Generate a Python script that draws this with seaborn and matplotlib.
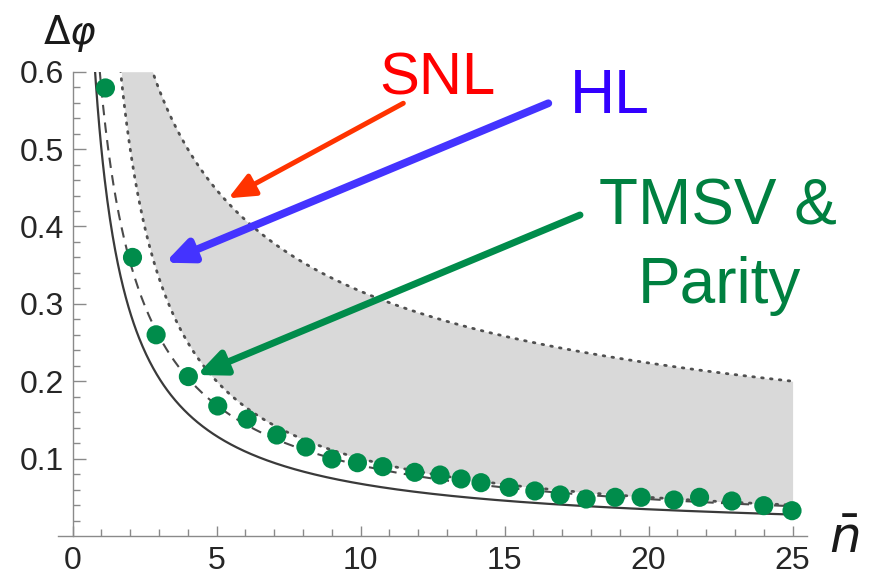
import numpy as np
import pandas as pd
import matplotlib
matplotlib.use("Agg")
import matplotlib.pyplot as plt
from matplotlib.ticker import FixedLocator
import seaborn as sns

# ---- data ----
n_points = [1.14, 2.08, 2.90, 4.02, 5.04, 6.06, 7.09, 8.10, 9.00, 9.89,
            10.77, 11.88, 12.76, 13.49, 14.18, 15.16, 16.05, 16.93, 17.83,
            18.84, 19.74, 20.88, 21.77, 22.89, 24.00, 24.98]
dphi_points = [0.579, 0.360, 0.260, 0.206, 0.168, 0.151, 0.1305, 0.115, 0.0995,
               0.0947, 0.0896, 0.0823, 0.0788, 0.0737, 0.0689, 0.0629, 0.0582,
               0.053, 0.0478, 0.050, 0.050, 0.0465, 0.050, 0.0452, 0.0392, 0.0327]

# theoretical bound curves (analytic limits drawn in the figure)
n_grid = np.linspace(0.5, 25, 800)
snl = 1 / np.sqrt(n_grid)                       # shot-noise limit
hl = 1 / n_grid                                 # Heisenberg limit
qcrb_dashed = 1 / np.sqrt(n_grid * (n_grid + 2))
qcrb_solid = 1 / np.sqrt(2 * n_grid * (n_grid + 1))

x_major = [0, 5, 10, 15, 20, 25]
y_major = [0.1, 0.2, 0.3, 0.4, 0.5, 0.6]
y_labels = ["0.1", "0.2", "0.3", "0.4", "0.5", "0.6"]

sns.set_style("white")
plt.rcParams["font.family"] = ["Liberation Sans", "DejaVu Sans"]

W, H = 870, 579
fig = plt.figure(figsize=(W / 100, H / 100), dpi=100)
ax = fig.add_axes([58.2 / W, (H - 536) / H, (807 - 58.2) / W, (536 - 71.7) / H])
ax.set_facecolor("white")

# shaded region between HL and SNL
mask = n_grid >= 5 / 3
ax.fill_between(n_grid[mask], hl[mask], np.minimum(snl[mask], 0.6),
                color="#d9d9d9", lw=0, zorder=1)

curves = pd.DataFrame({"n": n_grid, "snl": snl, "hl": hl,
                       "dashed": qcrb_dashed, "solid": qcrb_solid})
sns.lineplot(data=curves, x="n", y="solid", ax=ax, color="#3a3a3a", lw=1.6,
             estimator=None, sort=False, zorder=2)
sns.lineplot(data=curves, x="n", y="dashed", ax=ax, color="#4a4a4a", lw=1.5,
             linestyle=(0, (5, 3.5)), estimator=None, sort=False, zorder=2)
for col in ["hl", "snl"]:
    sns.lineplot(data=curves, x="n", y=col, ax=ax, color="#505050", lw=2.0,
                 linestyle=(0, (0.6, 2.6)), dash_capstyle="round",
                 estimator=None, sort=False, zorder=2)

sns.scatterplot(x=n_points, y=dphi_points, ax=ax, s=190, color="#008c4b",
                edgecolor="none", zorder=5, clip_on=False)

ax.set_xlim(-0.5, 25.5)
ax.set_ylim(0, 0.6)
ax.set_xlabel("")
ax.set_ylabel("")

for s in ["top", "right"]:
    ax.spines[s].set_visible(False)
for s in ["left", "bottom"]:
    ax.spines[s].set_color("#8a8a8a")
    ax.spines[s].set_linewidth(1.0)
ax.spines["left"].set_position(("data", 0))

ax.xaxis.set_major_locator(FixedLocator(x_major))
ax.xaxis.set_minor_locator(FixedLocator(list(range(0, 26))))
ax.yaxis.set_major_locator(FixedLocator(y_major))
ax.yaxis.set_minor_locator(FixedLocator([i * 0.02 for i in range(1, 31)]))
ax.set_yticklabels(y_labels)
ax.tick_params(axis="both", which="both", direction="in", color="#8a8a8a",
               width=1.0, labelcolor="#262626", labelsize=23,
               bottom=True, left=True, top=False, right=False)
ax.tick_params(axis="x", which="major", length=7, pad=7)
ax.tick_params(axis="x", which="minor", length=5)
ax.tick_params(axis="y", which="major", length=9, pad=6)
ax.tick_params(axis="y", which="minor", length=5)

# axis labels
fig.text(43 / W, 1 - 43.5 / H, r"$\Delta\varphi$", fontsize=28, ha="left",
         va="baseline", color="#1a1a1a")
fig.text(829 / W, 1 - 553 / H, r"$\bar{n}$", fontsize=36, ha="left",
         va="baseline", color="#1a1a1a")

# annotations
def px2data(px, py):
    return ((px - 58.2) / 28.8 - 0.5, (536 - py) / 773.8)

ax.text(*px2data(437.5, 95), "SNL", color="#ff0000", fontsize=43,
        ha="center", va="baseline", clip_on=False)
ax.text(*px2data(609.5, 113), "HL", color="#3300ff", fontsize=45,
        ha="center", va="baseline", clip_on=False)
ax.text(*px2data(718, 225), "TMSV &", color="#008040", fontsize=46,
        ha="center", va="baseline", clip_on=False)
ax.text(*px2data(719, 302.7), "Parity", color="#008040", fontsize=46,
        ha="center", va="baseline", clip_on=False)

arrows = [((403.3, 103.3), (228.3, 198.3), "#ff3300", 3.6, 32),
          ((548.3, 103.3), (165.0, 262.7), "#4433ff", 5.6, 32),
          ((580.0, 215.0), (196.7, 375.0), "#008c4b", 5.0, 34)]
for tail, tip, col, lw, ms in arrows:
    ax.annotate("", xy=px2data(*tip), xytext=px2data(*tail),
                arrowprops=dict(arrowstyle="-|>,head_length=0.5,head_width=0.22",
                                color=col, lw=lw, mutation_scale=ms,
                                shrinkA=0, shrinkB=0),
                annotation_clip=False, zorder=6)

fig.savefig("out.png", dpi=100)
